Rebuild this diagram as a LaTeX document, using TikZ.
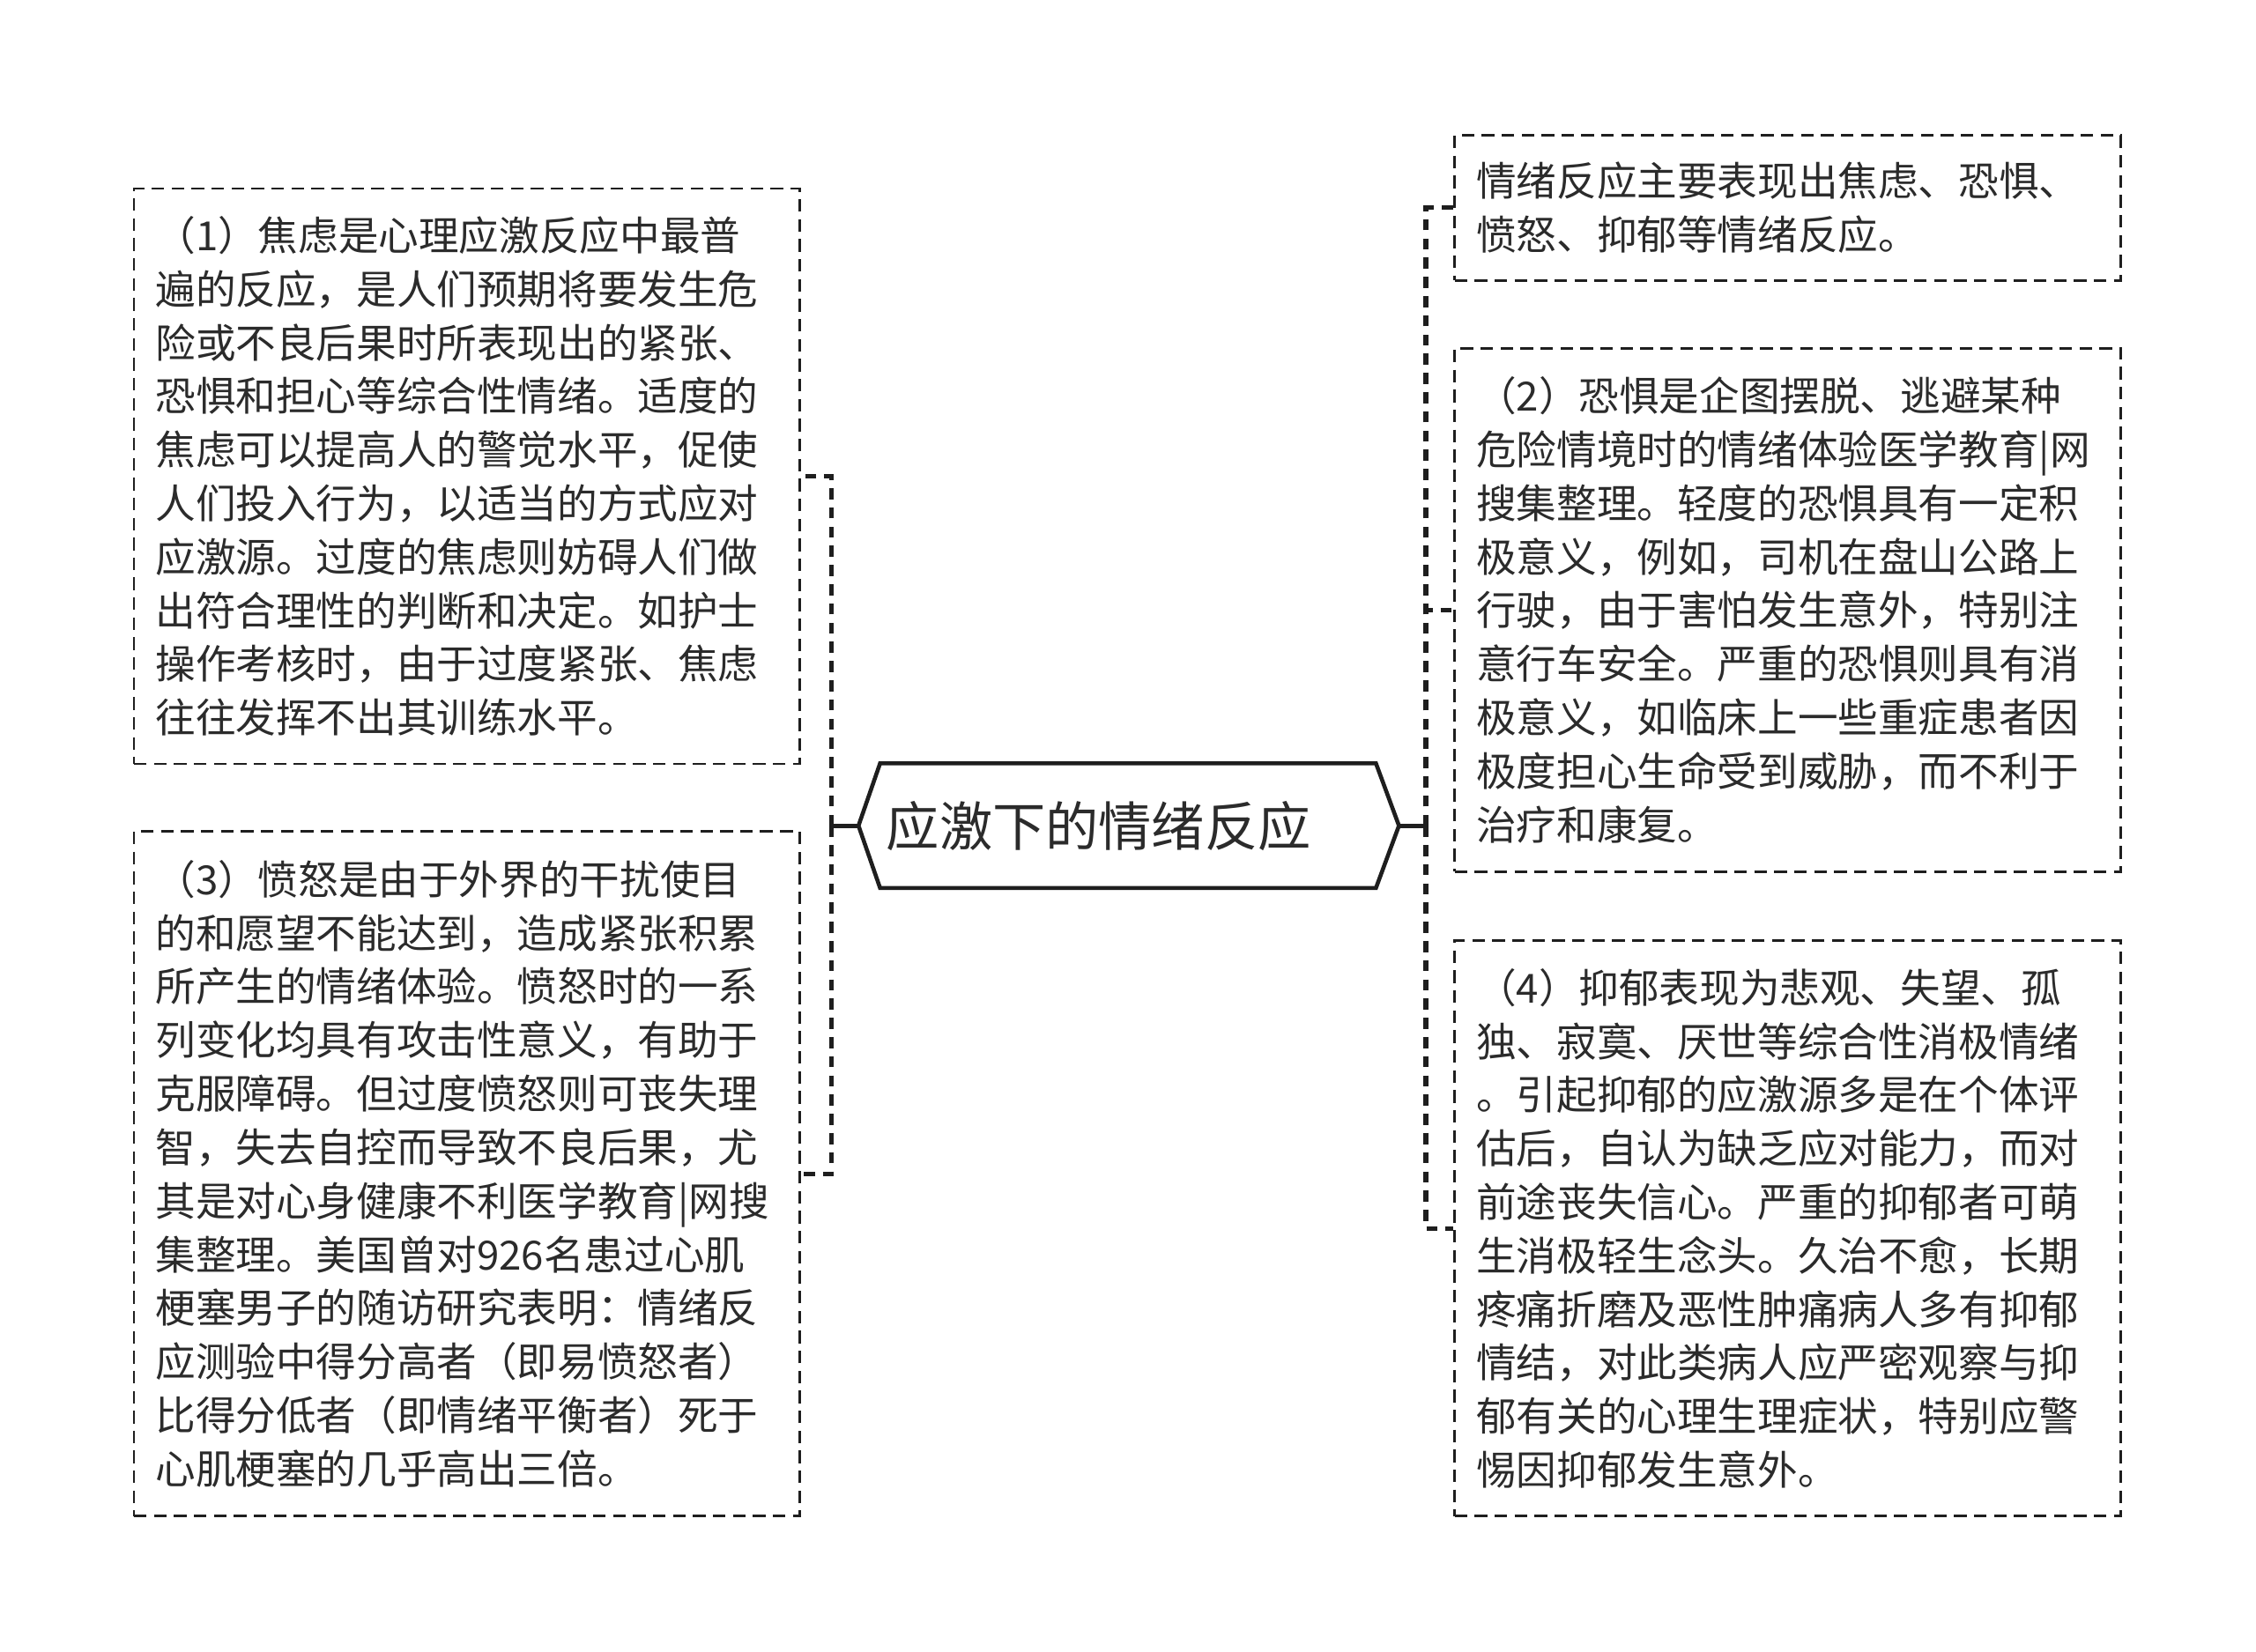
\documentclass[tikz,border=0pt]{standalone}
\usepackage{fontspec}
\setmainfont{Noto Sans CJK SC}
\usepackage{tikz}
\usetikzlibrary{
  calc,
  positioning
}
\definecolor{ink}{HTML}{2B2B2B}
\definecolor{rule}{HTML}{1E1E1E}
\tikzset{
  leaf/.style={draw=rule, line width=0.95pt, dash pattern=on 5pt off 2.9pt,
    text=ink, align=left, text width=8.66cm, inner xsep=0.3cm, inner ysep=0pt,
    font=\fontsize{15.9pt}{21.2pt}\selectfont},
  title/.style={text=ink, align=left, text width=6.74cm, inner xsep=0.38cm, inner ysep=0pt,
    minimum width=7.5cm, minimum height=1.72cm, font=\fontsize{21pt}{25pt}\selectfont},
  hexline/.style={draw=rule, line width=1.6pt, line join=miter},
  stub/.style={draw=rule, line width=1.8pt},
  link/.style={draw=rule, line width=1.8pt, dash pattern=on 4.4pt off 3.2pt}
}

\begin{document}
\begin{tikzpicture}[x=0.02cm,y=-0.02cm]
                  \path[fill=white,use as bounding box] (0,0) rectangle (1568,1148);

                  \node[title] (T) at (784.5,574) {应激下的情绪反应};
                  \draw[hexline] (T.west) -- ([xshift=0.3cm]T.north west) -- ([xshift=-0.32cm]T.north east)
                    -- (T.east) -- ([xshift=-0.32cm]T.south east) -- ([xshift=0.3cm]T.south west) -- cycle;

                  \node[leaf,minimum height=8cm] (B1) at (324.5,331) {（1）焦虑是心理应激反应中最普\\遍的反应，是人们预期将要发生危\\险或不良后果时所表现出的紧张、\\恐惧和担心等综合性情绪。适度的\\焦虑可以提高人的警觉水平，促使\\人们投入行为，以适当的方式应对\\应激源。过度的焦虑则妨碍人们做\\出符合理性的判断和决定。如护士\\操作考核时，由于过度紧张、焦虑\\往往发挥不出其训练水平。};
                  \node[leaf,minimum height=9.52cm] (B3) at (324.5,816) {（3）愤怒是由于外界的干扰使目\\的和愿望不能达到，造成紧张积累\\所产生的情绪体验。愤怒时的一系\\列变化均具有攻击性意义，有助于\\克服障碍。但过度愤怒则可丧失理\\智，失去自控而导致不良后果，尤\\其是对心身健康不利医学教育|网搜\\集整理。美国曾对926名患过心肌\\梗塞男子的随访研究表明：情绪反\\应测验中得分高者（即易愤怒者）\\比得分低者（即情绪平衡者）死于\\心肌梗塞的几乎高出三倍。};

                  \node[leaf,minimum height=2.02cm] (R0) at (1242.5,144.5) {情绪反应主要表现出焦虑、恐惧、\\愤怒、抑郁等情绪反应。};
                  \node[leaf,minimum height=7.28cm] (R2) at (1242.5,424) {（2）恐惧是企图摆脱、逃避某种\\危险情境时的情绪体验医学教育|网\\搜集整理。轻度的恐惧具有一定积\\极意义，例如，司机在盘山公路上\\行驶，由于害怕发生意外，特别注\\意行车安全。严重的恐惧则具有消\\极意义，如临床上一些重症患者因\\极度担心生命受到威胁，而不利于\\治疗和康复。};
                  \node[leaf,minimum height=8cm] (R4) at (1242.5,854) {（4）抑郁表现为悲观、失望、孤\\独、寂寞、厌世等综合性消极情绪\\。引起抑郁的应激源多是在个体评\\估后，自认为缺乏应对能力，而对\\前途丧失信心。严重的抑郁者可萌\\生消极轻生念头。久治不愈，长期\\疼痛折磨及恶性肿痛病人多有抑郁\\情结，对此类病人应严密观察与抑\\郁有关的心理生理症状，特别应警\\惕因抑郁发生意外。};

                  \coordinate (LJ) at (578,574);
                  \coordinate (RJ) at (991,574);
                  \draw[stub] (T.west) -- (LJ);
                  \draw[link] (LJ) |- (B1.east);
                  \draw[link] (LJ) |- (B3.east);

                  \draw[stub] (T.east) -- (RJ);
                  \draw[link] (RJ) |- (R0.west);
                  \draw[link] (RJ) |- (R2.west);
                  \draw[link] (RJ) |- (R4.west);
                \end{tikzpicture}
\end{document}
